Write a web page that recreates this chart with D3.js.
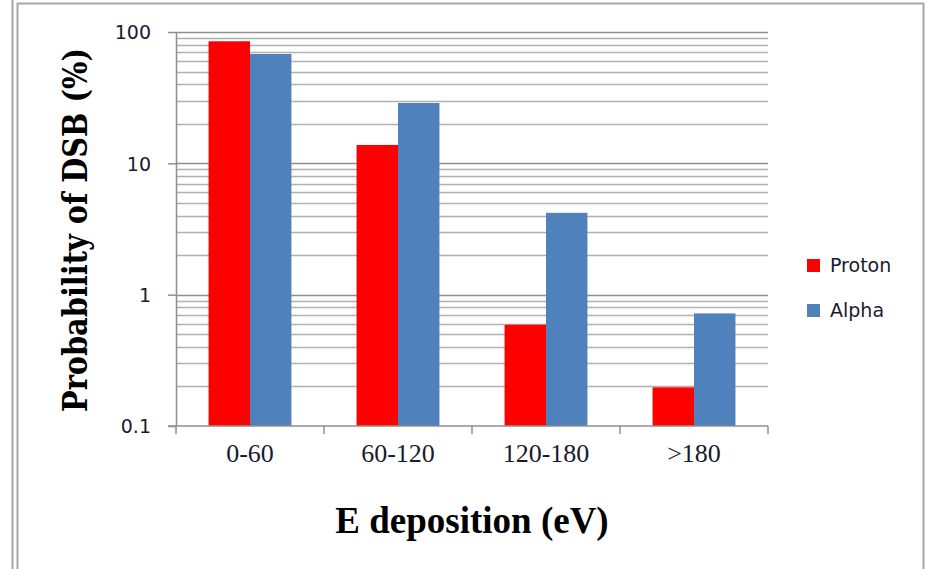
<!DOCTYPE html>
<html lang="en">
<head>
<meta charset="utf-8">
<script src="https://d3js.org/d3.v7.min.js"></script>
<style>
  body { margin: 0; background: #fff; }
  svg { display: block; }
</style>
</head>
<body>
<div id="chart"></div>
<script>
// data
var categories = ["0-60", "60-120", "120-180", ">180"];
var seriesNames = ["Proton", "Alpha"];
var proton = [85, 13.8, 0.59, 0.197];
var alpha = [68, 28.8, 4.2, 0.72];
var yTickValues = [0.1, 1, 10, 100];
var yTickLabels = ["0.1", "1", "10", "100"];

var width = 932, height = 569;
var plotLeft = 176, plotRight = 768, plotTop = 32, plotBottom = 426;
var colors = { Proton: "#ff0000", Alpha: "#4f81bd" };

var svg = d3.select("#chart").append("svg")
    .attr("width", width)
    .attr("height", height);

// outer frame
svg.append("line").attr("x1", 12.5).attr("x2", 12.5).attr("y1", 0).attr("y2", height)
    .attr("stroke", "#a8a8a8").attr("stroke-width", 2);
svg.append("path")
    .attr("d", "M17.5," + height + "V3.5H923.5V" + height)
    .attr("fill", "none").attr("stroke", "#a8a8a8").attr("stroke-width", 2);

// scales
var x0 = d3.scaleBand().domain(categories).range([plotLeft, plotRight])
    .paddingInner(0.44).paddingOuter(0.22);
var x1 = d3.scaleBand().domain(seriesNames).range([0, x0.bandwidth()]);
var y = d3.scaleLog().domain([0.1, 100]).range([plotBottom, plotTop]);

// grid lines, major and minor
var gridVals = [];
[0.1, 1, 10].forEach(function(d) {
    for (var k = 2; k <= 9; k++) gridVals.push(d * k);
});
svg.append("g").selectAll("line").data(gridVals).enter().append("line")
    .attr("x1", plotLeft).attr("x2", plotRight)
    .attr("y1", function(d) { return Math.round(y(d)) + 0.5; })
    .attr("y2", function(d) { return Math.round(y(d)) + 0.5; })
    .attr("stroke", "#b0b0b0").attr("stroke-width", 1.3);
svg.append("g").selectAll("line").data([1, 10, 100]).enter().append("line")
    .attr("x1", plotLeft).attr("x2", plotRight)
    .attr("y1", function(d) { return Math.round(y(d)) + 0.5; })
    .attr("y2", function(d) { return Math.round(y(d)) + 0.5; })
    .attr("stroke", "#8f8f8f").attr("stroke-width", 1.5);

// bars
var rows = categories.map(function(c, i) {
    return { cat: c, values: [{ name: "Proton", v: proton[i] }, { name: "Alpha", v: alpha[i] }] };
});
svg.append("g").selectAll("g").data(rows).enter().append("g")
    .attr("transform", function(d) { return "translate(" + x0(d.cat) + ",0)"; })
    .selectAll("rect").data(function(d) { return d.values; }).enter().append("rect")
    .attr("x", function(d) { return x1(d.name); })
    .attr("width", x1.bandwidth())
    .attr("y", function(d) { return y(d.v); })
    .attr("height", function(d) { return plotBottom - y(d.v); })
    .attr("fill", function(d) { return colors[d.name]; });

// y axis
var yAxis = d3.axisLeft(y).tickValues(yTickValues)
    .tickFormat(function(d, i) { return yTickLabels[i]; })
    .tickSizeInner(8).tickSizeOuter(0).tickPadding(17);
var gy = svg.append("g").attr("transform", "translate(" + plotLeft + ",0)").call(yAxis);
gy.selectAll("path, line").attr("stroke", "#8f8f8f").attr("stroke-width", 1.5);
gy.selectAll("text").attr("font-family", "DejaVu Sans").attr("font-size", 19)
    .attr("fill", "#1a1a2e").attr("dy", "0.36em");

// x axis
var xAxis = d3.axisBottom(x0).tickSize(0).tickPadding(18);
var gx = svg.append("g").attr("transform", "translate(0," + plotBottom + ")").call(xAxis);
gx.select("path").attr("stroke", "#8f8f8f").attr("stroke-width", 1.5)
    .attr("d", "M" + (plotLeft - 8) + ",0H" + plotRight);
gx.selectAll("text").attr("font-family", "Liberation Serif").attr("font-size", 26)
    .attr("fill", "#1a1a2e");
var sep = x0.step();
svg.append("g").selectAll("line").data(d3.range(categories.length + 1)).enter().append("line")
    .attr("x1", function(i) { return plotLeft + i * sep; })
    .attr("x2", function(i) { return plotLeft + i * sep; })
    .attr("y1", plotBottom).attr("y2", plotBottom + 8)
    .attr("stroke", "#8f8f8f").attr("stroke-width", 1.5);

// axis titles
svg.append("text")
    .attr("transform", "translate(87,230) rotate(-90)")
    .attr("text-anchor", "middle")
    .attr("font-family", "DejaVu Serif").attr("font-weight", "bold").attr("font-size", 34)
    .attr("textLength", 364).attr("lengthAdjust", "spacingAndGlyphs")
    .attr("fill", "#000")
    .text("Probability of DSB (%)");

svg.append("text")
    .attr("x", (plotLeft + plotRight) / 2).attr("y", 533)
    .attr("text-anchor", "middle")
    .attr("font-family", "Liberation Serif").attr("font-weight", "bold").attr("font-size", 37)
    .attr("fill", "#000")
    .text("E deposition (eV)");

// legend
var legend = svg.append("g").selectAll("g").data(seriesNames).enter().append("g")
    .attr("transform", function(d, i) { return "translate(807," + (259 + i * 45) + ")"; });
legend.append("rect").attr("width", 13).attr("height", 13)
    .attr("fill", function(d) { return colors[d]; });
legend.append("text").attr("x", 23).attr("y", 13)
    .attr("font-family", "DejaVu Sans").attr("font-size", 19).attr("fill", "#1a1a2e")
    .text(function(d) { return d; });
</script>
</body>
</html>
